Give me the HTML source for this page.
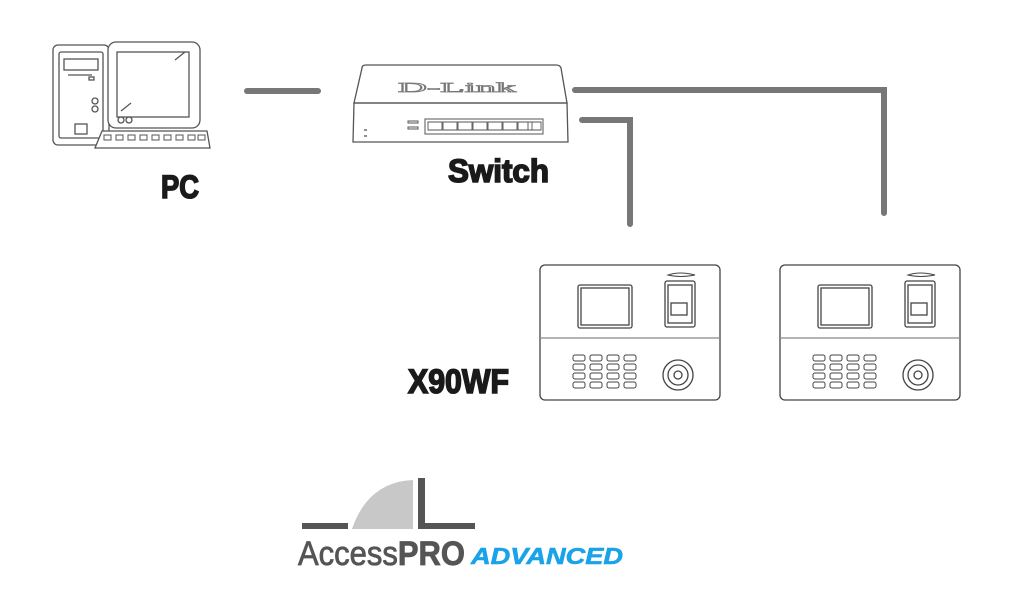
<!DOCTYPE html>
<html><head><meta charset="utf-8"><style>html,body{margin:0;padding:0;background:#fff;width:1024px;height:605px;overflow:hidden}</style></head>
<body>
<svg width="1024" height="605" viewBox="0 0 1024 605" xmlns="http://www.w3.org/2000/svg" font-family="Liberation Sans, sans-serif">
<g fill="none" stroke="#555" stroke-width="1.3">
  <rect x="53" y="45" width="56" height="100" rx="5"/>
  <rect x="59" y="52" width="44" height="86" rx="2"/>
  <rect x="64" y="59" width="34" height="11"/>
  <line x1="68" y1="75" x2="92" y2="75"/>
  <rect x="89" y="77" width="5" height="3"/>
  <circle cx="95" cy="101" r="3"/><circle cx="95" cy="109" r="3"/>
  <rect x="75" y="124" width="12" height="10"/>
  <rect x="108" y="42" width="92" height="86" rx="8" fill="#fff"/>
  <rect x="117" y="52" width="72" height="65"/>
  <line x1="175" y1="60" x2="185" y2="52"/><line x1="121" y1="111" x2="131" y2="103"/>
  <circle cx="121" cy="120" r="3"/><circle cx="129" cy="120" r="3"/>
  <path d="M102 131 H207 L210 148 H95 Z" fill="#fff"/>
  <g stroke-width="1">
    <rect x="104" y="135" width="7" height="5"/><rect x="116" y="135" width="7" height="5"/><rect x="128" y="135" width="7" height="5"/><rect x="140" y="135" width="7" height="5"/><rect x="152" y="135" width="7" height="5"/><rect x="164" y="135" width="7" height="5"/><rect x="176" y="135" width="7" height="5"/><rect x="188" y="135" width="7" height="5"/><rect x="198" y="135" width="7" height="5"/>
  </g>
  <path d="M362 68 Q362 65 366 65 H556 Q560 65 561 68 L567 103 H354 Z"/>
  <path d="M354 103 H567 L568 142 H353 Z"/>
  <text x="398" y="92" font-size="14" font-family="Liberation Serif, serif" fill="none" stroke="#777" stroke-width="0.8" textLength="118" lengthAdjust="spacingAndGlyphs">D-Link</text>
  <rect x="425" y="119" width="118" height="15" stroke-width="1"/>
  <rect x="408" y="121" width="10" height="2" stroke-width="1"/>
  <rect x="408" y="127" width="10" height="2" stroke-width="1"/>
  <line x1="364" y1="130" x2="367" y2="130"/><line x1="364" y1="136" x2="367" y2="136"/>
  <path d="M428 122 h14 v8 h-14z M443 122 h14 v8 h-14z M458 122 h14 v8 h-14z M473 122 h14 v8 h-14z M488 122 h14 v8 h-14z M503 122 h14 v8 h-14z M518 122 h14 v8 h-14z M528 122 h13 v8 h-13z" stroke-width="0.9"/>
</g>
<g fill="none" stroke="#777" stroke-width="6" stroke-linecap="round">
  <line x1="247" y1="91" x2="318" y2="91"/>
  <polyline points="575,90 884,90 884,213"/>
  <polyline points="582,120 630,120 630,224"/>
</g>
<g fill="#1a1a1a" stroke="#1a1a1a" stroke-width="1.6" font-weight="bold">
  <text x="161" y="198" font-size="32" textLength="38" lengthAdjust="spacingAndGlyphs">PC</text>
  <text x="448" y="182" font-size="32" textLength="101" lengthAdjust="spacingAndGlyphs">Switch</text>
  <text x="408" y="393" font-size="34" textLength="101" lengthAdjust="spacingAndGlyphs">X90WF</text>
</g>
<defs>
<g id="dev" fill="none" stroke="#444" stroke-width="1.3">
  <rect x="0" y="0" width="180" height="135" rx="5"/>
  <line x1="0" y1="73" x2="180" y2="73" stroke="#888"/>
  <rect x="38" y="20" width="54" height="43" rx="2"/>
  <rect x="41" y="23" width="48" height="37"/>
  <rect x="125" y="16" width="30" height="46" rx="2"/>
  <rect x="128" y="20" width="24" height="38"/>
  <rect x="131" y="38" width="16" height="12"/>
  <path d="M128 10 Q140 6 155 10 Q140 13 128 10Z" stroke-width="1"/>
  <g stroke-width="1">
    <rect x="33" y="90" width="12" height="6" rx="2"/><rect x="50" y="90" width="12" height="6" rx="2"/><rect x="67" y="90" width="12" height="6" rx="2"/><rect x="84" y="90" width="12" height="6" rx="2"/>
    <rect x="33" y="99" width="12" height="6" rx="2"/><rect x="50" y="99" width="12" height="6" rx="2"/><rect x="67" y="99" width="12" height="6" rx="2"/><rect x="84" y="99" width="12" height="6" rx="2"/>
    <rect x="33" y="108" width="12" height="6" rx="2"/><rect x="50" y="108" width="12" height="6" rx="2"/><rect x="67" y="108" width="12" height="6" rx="2"/><rect x="84" y="108" width="12" height="6" rx="2"/>
    <rect x="33" y="117" width="12" height="6" rx="2"/><rect x="50" y="117" width="12" height="6" rx="2"/><rect x="67" y="117" width="12" height="6" rx="2"/><rect x="84" y="117" width="12" height="6" rx="2"/>
  </g>
  <circle cx="138" cy="110" r="15"/><circle cx="138" cy="110" r="10"/><circle cx="138" cy="110" r="4"/>
</g>
</defs>
<use href="#dev" x="540" y="265"/>
<use href="#dev" x="780" y="265"/>
<path d="M352 529 Q368 482 413 480 V529 Z" fill="#c8c8c8"/>
<rect x="302" y="523" width="46" height="6" fill="#555"/>
<rect x="418" y="478" width="7" height="51" fill="#555"/>
<rect x="418" y="523" width="57" height="6" fill="#555"/>
<text x="298" y="565" font-size="34" fill="#555" stroke="#555" stroke-width="0.8" textLength="167" lengthAdjust="spacingAndGlyphs">Access<tspan font-weight="bold">PRO</tspan></text>
<text x="471" y="564" font-size="23" font-weight="bold" font-style="italic" fill="#1aa3e8" stroke="#1aa3e8" stroke-width="0.6" textLength="152" lengthAdjust="spacingAndGlyphs">ADVANCED</text>
</svg>
</body></html>
